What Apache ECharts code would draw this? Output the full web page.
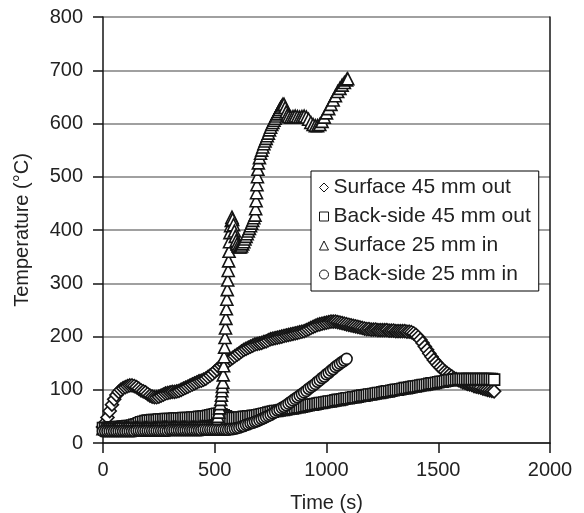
<!DOCTYPE html>
<html>
<head>
<meta charset="utf-8">
<script src="https://cdn.jsdelivr.net/npm/echarts@6/dist/echarts.min.js"></script>
<style>
  html, body { margin: 0; padding: 0; background: #fff; }
  #chart { width: 584px; height: 513px; }
</style>
</head>
<body>
<div id="chart"></div>
<script>
// time samples (s) shared by the regularly logged series
const timeGrid = [
  0, 10, 20, 30, 40, 50, 60, 70, 80, 90,
  100, 110, 120, 130, 140, 150, 160, 170, 180, 190,
  200, 210, 220, 230, 240, 250, 260, 270, 280, 290,
  300, 310, 320, 330, 340, 350, 360, 370, 380, 390,
  400, 410, 420, 430, 440, 450, 460, 470, 480, 490,
  500, 510, 520, 530, 540, 550, 560, 570, 580, 590,
  600, 610, 620, 630, 640, 650, 660, 670, 680, 690,
  700, 710, 720, 730, 740, 750, 760, 770, 780, 790,
  800, 810, 820, 830, 840, 850, 860, 870, 880, 890,
  900, 910, 920, 930, 940, 950, 960, 970, 980, 990,
  1000, 1010, 1020, 1030, 1040, 1050, 1060, 1070, 1080, 1090,
  1100, 1110, 1120, 1130, 1140, 1150, 1160, 1170, 1180, 1190,
  1200, 1210, 1220, 1230, 1240, 1250, 1260, 1270, 1280, 1290,
  1300, 1310, 1320, 1330, 1340, 1350, 1360, 1370, 1380, 1390,
  1400, 1410, 1420, 1430, 1440, 1450, 1460, 1470, 1480, 1490,
  1500, 1510, 1520, 1530, 1540, 1550, 1560, 1570, 1580, 1590,
  1600, 1610, 1620, 1630, 1640, 1650, 1660, 1670, 1680, 1690,
  1700, 1710, 1720, 1730, 1740, 1750
];

// Surface 45 mm out (°C)
const surface45Out = [
  30, 38, 48, 60, 72, 82, 90, 96, 100, 103,
  105, 107, 108, 108, 107, 105, 102, 99, 97, 95,
  92, 89, 87, 86, 86, 87, 89, 91, 93, 94,
  95, 96, 96, 97, 98, 100, 102, 104, 106, 108,
  110, 112, 114, 116, 117, 119, 121, 124, 127, 130,
  134, 138, 142, 145, 148, 151, 154, 157, 160, 163,
  166, 169, 172, 175, 177, 179, 181, 183, 185, 186,
  187, 188, 190, 191, 193, 195, 196, 197, 198, 199,
  200, 201, 202, 203, 204, 205, 206, 207, 208, 209,
  210, 212, 214, 216, 218, 220, 222, 223, 224, 225,
  226, 227, 228, 228, 228, 227, 226, 225, 224, 223,
  222, 221, 220, 219, 218, 217, 216, 215, 214, 214,
  213, 213, 213, 212, 212, 212, 212, 212, 211, 211,
  211, 210, 210, 210, 210, 210, 209, 209, 208, 206,
  203, 199, 194, 188, 181, 175, 168, 162, 156, 151,
  146, 142, 138, 134, 131, 128, 125, 122, 120, 118,
  116, 114, 113, 111, 110, 109, 107, 106, 105, 104,
  102, 101, 100, 99, 98, 97
];

// Back-side 45 mm out (°C)
const backSide45Out = [
  28, 28, 28, 29, 29, 29, 30, 30, 30, 31,
  31, 32, 32, 33, 34, 35, 37, 39, 40, 41,
  42, 42, 43, 43, 43, 44, 44, 44, 45, 45,
  45, 45, 46, 46, 46, 46, 47, 47, 47, 47,
  48, 48, 48, 49, 49, 50, 50, 51, 52, 53,
  54, 55, 55, 54, 52, 50, 48, 47, 47, 47,
  47, 48, 48, 49, 49, 50, 50, 51, 51, 52,
  53, 54, 55, 56, 57, 58, 59, 60, 60, 61,
  62, 62, 63, 64, 65, 65, 66, 67, 67, 68,
  69, 70, 71, 72, 72, 73, 74, 75, 75, 76,
  77, 78, 78, 79, 80, 81, 81, 82, 83, 84,
  84, 85, 86, 86, 87, 88, 89, 89, 90, 91,
  91, 92, 93, 94, 94, 95, 96, 97, 97, 98,
  99, 100, 100, 101, 102, 103, 103, 104, 105, 106,
  106, 107, 108, 109, 109, 110, 111, 112, 112, 113,
  114, 115, 115, 116, 117, 118, 118, 119, 119, 120,
  120, 120, 120, 120, 120, 120, 120, 120, 120, 120,
  120, 120, 120, 120, 120, 119
];

// Back-side 25 mm in (°C), logged up to 1090 s
const backSide25In = [
  22, 22, 22, 22, 22, 22, 22, 22, 22, 22,
  22, 22, 22, 22, 22, 23, 23, 23, 23, 23,
  23, 23, 23, 23, 23, 23, 23, 23, 23, 23,
  24, 24, 24, 24, 24, 24, 24, 24, 24, 24,
  24, 24, 24, 24, 24, 25, 25, 25, 25, 25,
  25, 25, 25, 25, 25, 25, 25, 26, 26, 27,
  28, 29, 31, 32, 34, 35, 37, 38, 40, 41,
  43, 45, 47, 49, 51, 53, 56, 58, 61, 63,
  66, 68, 71, 74, 77, 80, 83, 86, 89, 92,
  95, 98, 102, 105, 108, 111, 115, 118, 122, 125,
  129, 132, 136, 139, 143, 146, 149, 152, 155, 158
];

// Surface 25 mm in: logged faster during the burn-through
const surface25InTime = [
  0, 10, 20, 30, 40, 50, 60, 70, 80, 90,
  100, 110, 120, 130, 140, 150, 160, 170, 180, 190,
  200, 210, 220, 230, 240, 250, 260, 270, 280, 290,
  300, 310, 320, 330, 340, 350, 360, 370, 380, 390,
  400, 410, 420, 430, 440, 450, 460, 470, 480, 490,
  500, 505, 510, 514, 518, 521, 524, 527, 530, 532,
  534, 536, 538, 540, 542, 544, 546, 548, 550, 552,
  554, 556, 558, 560, 562, 564, 566, 568, 571, 574,
  577, 580, 584, 588, 592, 596, 600, 605, 610, 615,
  620, 625, 630, 635, 640, 645, 650, 655, 660, 665,
  670, 675, 680, 683, 685, 687, 689, 691, 693, 695,
  700, 705, 710, 715, 720, 725, 730, 735, 740, 745,
  750, 755, 760, 765, 770, 775, 780, 785, 790, 795,
  800, 805, 810, 815, 820, 825, 830, 840, 850, 860,
  870, 880, 890, 900, 910, 920, 930, 940, 950, 960,
  970, 980, 990, 1000, 1010, 1020, 1030, 1040, 1050, 1060,
  1070, 1080, 1090, 1095
];
const surface25In = [
  27, 27, 27, 27, 27, 27, 28, 28, 28, 28,
  28, 28, 28, 28, 28, 28, 28, 28, 28, 28,
  28, 28, 28, 28, 28, 29, 29, 29, 29, 29,
  29, 29, 29, 29, 29, 29, 29, 29, 29, 29,
  29, 29, 29, 30, 30, 30, 30, 30, 30, 30,
  30, 35, 42, 50, 58, 66, 74, 82, 90, 98,
  106, 114, 128, 145, 162, 180, 198, 216, 234, 252,
  270, 288, 306, 324, 342, 360, 378, 395, 408, 418,
  424, 420, 410, 398, 388, 380, 374, 370, 368, 368,
  370, 374, 378, 383, 388, 393, 398, 403, 408, 413,
  418, 423, 428, 440, 455, 470, 485, 500, 514, 526,
  536, 544, 550, 556, 562, 567, 572, 577, 582, 588,
  593, 598, 602, 606, 610, 614, 618, 622, 626, 630,
  633, 636, 636, 630, 622, 616, 613, 612, 613, 614,
  613, 612, 613, 614, 612, 608, 602, 598, 596, 596,
  598, 604, 612, 620, 628, 636, 644, 652, 660, 666,
  672, 677, 682, 684
];

const seriesNames = ["Surface 45 mm out", "Back-side 45 mm out", "Surface 25 mm in", "Back-side 25 mm in"];
const seriesSymbols = ["diamond", "rect", "triangle", "circle"];
const symbolSizes = [13, 11, 12, 11];

const pair = (times, temps) => temps.map((v, i) => [times[i], v]);

const seriesData = [
  pair(timeGrid, surface45Out),
  pair(timeGrid, backSide45Out),
  pair(surface25InTime, surface25In),
  pair(timeGrid, backSide25In),
];

const FONT = "'Liberation Sans', Arial, Helvetica, sans-serif";
const INK = "#141414";

const chart = echarts.init(document.getElementById("chart"));

const option = {
  animation: false,
  backgroundColor: "#fff",
  textStyle: { fontFamily: FONT, color: "#222" },
  grid: { left: 103, right: 34, top: 17, bottom: 70, outerBoundsMode: "none", containLabel: false },
  legend: {
    orient: "vertical",
    left: 311,
    top: 171,
    padding: [6, 8, 6, 8],
    itemGap: 8,
    itemWidth: 9,
    itemHeight: 9,
    backgroundColor: "#fff",
    borderColor: "#000",
    borderWidth: 1,
    borderRadius: 0,
    textStyle: { fontSize: 21, fontFamily: FONT, color: "#222" },
    itemStyle: { borderWidth: 1, borderColor: INK, color: "#fff" },
    data: seriesNames,
  },
  xAxis: {
    type: "value",
    min: 0,
    max: 2000,
    interval: 500,
    name: "Time (s)",
    nameLocation: "middle",
    nameGap: 50,
    nameTextStyle: { fontSize: 20, fontFamily: FONT, color: "#222" },
    axisLine: { show: true, lineStyle: { color: INK, width: 1.5 } },
    axisTick: { show: true, length: 10, lineStyle: { color: INK, width: 1.5 } },
    axisLabel: { fontSize: 20, fontFamily: FONT, color: "#222", margin: 17, formatter: (v) => String(v) },
    splitLine: { show: false },
  },
  yAxis: [
    {
      type: "value",
      min: 0,
      max: 800,
      interval: 100,
      name: "Temperature (\u00B0C)",
      nameLocation: "middle",
      nameGap: 71,
      nameTextStyle: { fontSize: 20, fontFamily: FONT, color: "#222" },
      axisLine: { show: true, lineStyle: { color: INK, width: 1.5 } },
      axisTick: { show: true, length: 10, lineStyle: { color: INK, width: 1.5 } },
      axisLabel: { fontSize: 20, fontFamily: FONT, color: "#222", margin: 20, formatter: (v) => String(v) },
      splitLine: { show: true, lineStyle: { color: "#808080", width: 1.5 } },
    },
    {
      type: "value",
      position: "right",
      min: 0,
      max: 800,
      interval: 100,
      axisLine: { show: true, lineStyle: { color: INK, width: 1.5 } },
      axisTick: { show: false },
      axisLabel: { show: false },
      splitLine: { show: false },
    },
  ],
  series: seriesNames.map((name, i) => ({
    name: name,
    type: "scatter",
    symbol: seriesSymbols[i],
    symbolSize: symbolSizes[i],
    yAxisIndex: 0,
    itemStyle: { color: "#fff", borderColor: INK, borderWidth: 1.6, opacity: 1 },
    emphasis: { disabled: true },
    data: seriesData[i],
  })),
};

chart.setOption(option);
</script>
</body>
</html>
